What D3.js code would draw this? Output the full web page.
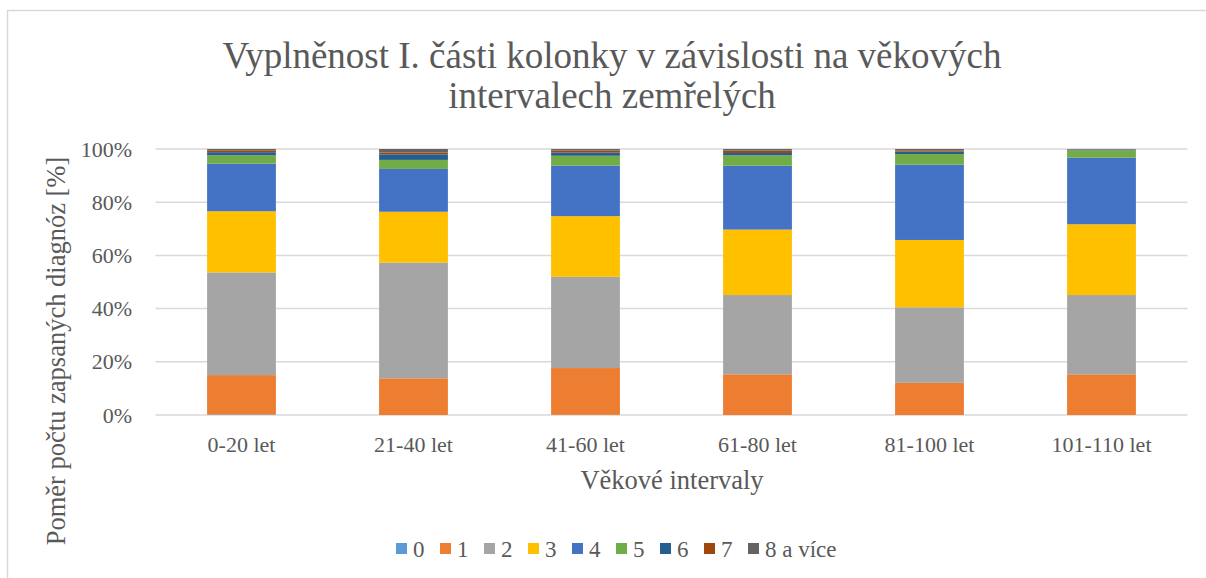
<!DOCTYPE html>
<html>
<head>
<meta charset="utf-8">
<script src="https://cdn.jsdelivr.net/npm/d3@7"></script>
<style>
  body { margin: 0; background: #fff; }
  svg text { font-family: "Liberation Serif", "Times New Roman", serif; fill: #595959; }
</style>
</head>
<body>
<div id="graph1"></div>
<script>
// data (shares in %)
var categories = ["0-20 let", "21-40 let", "41-60 let", "61-80 let", "81-100 let", "101-110 let"];
var seriesNames = ["0", "1", "2", "3", "4", "5", "6", "7", "8 a více"];
var s0 = [0.2, 0.0, 0.05, 0.0, 0.0, 0.0];
var s1 = [14.8, 13.8, 17.6, 15.3, 12.1, 15.3];
var s2 = [38.6, 43.5, 34.3, 29.8, 28.4, 29.8];
var s3 = [23.0, 19.1, 22.8, 24.6, 25.3, 26.6];
var s4 = [17.9, 16.1, 19.0, 24.0, 28.3, 25.0];
var s5 = [3.1, 3.4, 3.7, 3.9, 4.0, 2.8];
var s6 = [1.2, 2.1, 1.2, 0.9, 0.9, 0.2];
var s7 = [0.7, 0.7, 0.75, 0.9, 0.5, 0.1];
var s8 = [0.5, 1.3, 0.6, 0.6, 0.5, 0.2];
var yTicks = [0, 20, 40, 60, 80, 100];
var colors = ["#5B9BD5", "#ED7D31", "#A5A5A5", "#FFC000", "#4472C4", "#70AD47", "#255E91", "#9E480E", "#636363"];

var allSeries = [s0, s1, s2, s3, s4, s5, s6, s7, s8];
var rows = categories.map(function(c, i) {
  var r = { cat: c };
  seriesNames.forEach(function(n, k) { r[n] = allSeries[k][i]; });
  return r;
});

var W = 1206, H = 578;
var svg = d3.select("#graph1").append("svg")
    .attr("width", W)
    .attr("height", H);

// chart frame
svg.append("rect")
  .attr("x", 7.5).attr("y", 10.5)
  .attr("width", 1220).attr("height", 620)
  .attr("fill", "#fff")
  .attr("stroke", "#d9d9d9")
  .attr("stroke-width", 1.5);

var x = d3.scaleBand().domain(categories).range([155.5, 1187.5])
    .paddingInner(0.6).paddingOuter(0.3);
var y = d3.scaleLinear().domain([0, 100]).range([415, 149]);

// gridlines
svg.append("g").selectAll("line")
  .data(yTicks)
  .enter().append("line")
  .attr("x1", 155.5).attr("x2", 1187.5)
  .attr("y1", function(d) { return y(d); })
  .attr("y2", function(d) { return y(d); })
  .attr("stroke", "#d9d9d9")
  .attr("stroke-width", 1.5);

// y tick labels
svg.append("g").selectAll("text")
  .data(yTicks)
  .enter().append("text")
  .attr("x", 132)
  .attr("y", function(d) { return y(d) + 7.5; })
  .attr("text-anchor", "end")
  .style("font-size", "22px")
  .text(function(d) { return d + "%"; });

// stacked bars
var stack = d3.stack().keys(seriesNames)(rows);
svg.append("g").selectAll("g")
  .data(stack)
  .enter().append("g")
  .attr("fill", function(d, i) { return colors[i]; })
  .selectAll("rect")
  .data(function(d) { return d; })
  .enter().append("rect")
  .attr("x", function(d) { return x(d.data.cat); })
  .attr("width", x.bandwidth())
  .attr("y", function(d) { return y(d[1]); })
  .attr("height", function(d) { return y(d[0]) - y(d[1]); });

// x labels
svg.append("g").selectAll("text")
  .data(categories)
  .enter().append("text")
  .attr("x", function(d) { return x(d) + x.bandwidth() / 2; })
  .attr("y", 452)
  .attr("text-anchor", "middle")
  .style("font-size", "22px")
  .text(function(d) { return d; });

// titles
var title = svg.append("text")
  .attr("x", 612).attr("y", 68)
  .attr("text-anchor", "middle")
  .style("font-size", "37px");
title.append("tspan").attr("x", 612).attr("dy", 0).text("Vyplněnost I. části kolonky v závislosti na věkových");
title.append("tspan").attr("x", 612).attr("dy", 40).text("intervalech zemřelých");

svg.append("text")
  .attr("x", 672).attr("y", 489)
  .attr("text-anchor", "middle")
  .style("font-size", "26.5px")
  .text("Věkové intervaly");

svg.append("text")
  .attr("transform", "translate(65,351) rotate(-90)")
  .attr("text-anchor", "middle")
  .style("font-size", "26.5px")
  .text("Poměr počtu zapsaných diagnóz [%]");

// legend
var legend = svg.append("g").attr("transform", "translate(396,0)");
seriesNames.forEach(function(n, i) {
  var item = legend.append("g").attr("transform", "translate(" + (i * 44) + ",0)");
  item.append("rect")
    .attr("x", 0).attr("y", 543)
    .attr("width", 11).attr("height", 11)
    .attr("fill", colors[i]);
  item.append("text")
    .attr("x", 17).attr("y", 557)
    .style("font-size", "23px")
    .text(n);
});
</script>
</body>
</html>
